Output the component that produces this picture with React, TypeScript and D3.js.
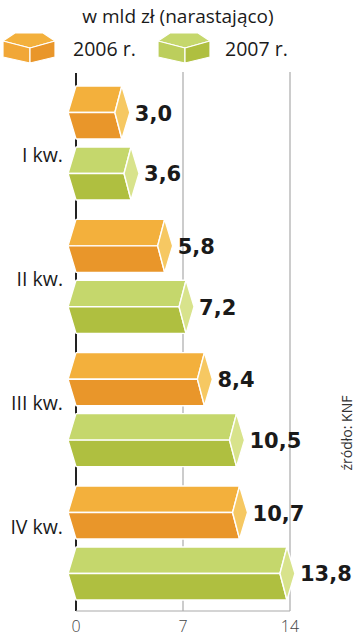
import React from "react";
import * as d3 from "d3";

const quarters = ["I kw.", "II kw.", "III kw.", "IV kw."];
const series = ["2006 r.", "2007 r."];
const values2006 = [3.0, 5.8, 8.4, 10.7];
const values2007 = [3.6, 7.2, 10.5, 13.8];
const ticks = [0, 7, 14];

const palette = {
  "2006 r.": { top: "#F3B03C", side: "#F1A737", front: "#E9962A", cap: "#F6C862" },
  "2007 r.": { top: "#C5D76C", side: "#BCCE5C", front: "#AFBF40", cap: "#D8E38C" },
};

const W = 362;
const H = 640;
const fmt = (v: number) => v.toFixed(1).replace(".", ",");

const x = d3.scaleLinear().domain([0, 14]).range([76, 290]);
const yQ = d3.scaleBand().domain(quarters).range([86, 600]).paddingInner(0.145);
const yS = d3.scaleBand().domain(series).range([0, yQ.bandwidth()]).paddingInner(0.13);
const yLabel = d3.scalePoint().domain(quarters).range([155, 527]);

const pts = (p: number[][]) => p.map((d) => d.join(",")).join(" ");

const Bar = ({ q, s, v }: { q: string; s: string; v: number }) => {
  const y = (yQ(q) || 0) + (yS(s) || 0);
  const h = yS.bandwidth();
  const m = y + h / 2;
  const x0 = x(0);
  const x1 = x(v);
  const c = palette[s as keyof typeof palette];
  return (
    <g stroke="#fff" strokeWidth={1.4} strokeLinejoin="round">
      <polygon points={pts([[x0, y], [x1, y], [x1 - 7, m], [x0 - 8, m]])} fill={c.top} />
      <polygon points={pts([[x0 - 8, m], [x1 - 7, m], [x1, y + h], [x0, y + h]])} fill={c.front} />
      <polygon points={pts([[x1, y], [x1 + 8, m], [x1, y + h], [x1 - 7, m]])} fill={c.cap} />
      <text
        x={x1 + 13}
        y={m + 8}
        stroke="none"
        fill="#1a1a1a"
        fontFamily="DejaVu Sans"
        fontWeight="bold"
        fontSize={21}
      >
        {fmt(v)}
      </text>
    </g>
  );
};

const Cube = ({ dx, s }: { dx: number; s: string }) => {
  const c = palette[s as keyof typeof palette];
  return (
    <g transform={`translate(${dx},0)`} stroke="#fff" strokeWidth={1.2} strokeLinejoin="round">
      <polygon points={pts([[3, 41], [15, 33], [43, 33], [55, 41], [30, 48]])} fill={c.top} />
      <polygon points={pts([[3, 41], [30, 48], [30, 63], [3, 57]])} fill={c.side} />
      <polygon points={pts([[30, 48], [55, 41], [55, 57], [30, 63]])} fill={c.front} />
    </g>
  );
};

export default function App() {
  const font = "'Open Sans', sans-serif";
  return (
    <svg
      width={W}
      height={H}
      style={{ position: "absolute", left: 0, top: 0, background: "#fff" }}
    >
      <text x={178} y={23} textAnchor="middle" fontFamily={font} fontSize={19} fill="#1a1a1a">
        w mld zł (narastająco)
      </text>
      <Cube dx={0} s="2006 r." />
      <text x={73} y={56} fontFamily={font} fontSize={19.5} fill="#1a1a1a">
        2006 r.
      </text>
      <Cube dx={155} s="2007 r." />
      <text x={225} y={56} fontFamily={font} fontSize={19.5} fill="#1a1a1a">
        2007 r.
      </text>

      {ticks.slice(1).map((t) => (
        <line key={t} x1={x(t)} x2={x(t)} y1={72} y2={611} stroke="#aaa" strokeWidth={1.2} />
      ))}
      <line x1={x(0)} x2={x(0)} y1={73} y2={611} stroke="#222" strokeWidth={2} />
      <line x1={x(0)} x2={x(14)} y1={611} y2={611} stroke="#aaa" strokeWidth={1.2} />

      {quarters.map((q, i) => (
        <g key={q}>
          <Bar q={q} s="2006 r." v={values2006[i]} />
          <Bar q={q} s="2007 r." v={values2007[i]} />
          <text
            x={63}
            y={(yLabel(q) || 0) + 7}
            textAnchor="end"
            fontFamily={font}
            fontSize={19.5}
            fill="#1a1a1a"
          >
            {q}
          </text>
        </g>
      ))}

      {ticks.map((t) => (
        <text
          key={t}
          x={x(t)}
          y={632}
          textAnchor="middle"
          fontFamily={font}
          fontWeight={300}
          fontSize={16}
          fill="#444"
        >
          {t}
        </text>
      ))}

      <text
        transform="translate(352,433) rotate(-90)"
        textAnchor="middle"
        fontFamily={font}
        fontSize={14}
        fill="#333"
      >
        źródło: KNF
      </text>
    </svg>
  );
}
